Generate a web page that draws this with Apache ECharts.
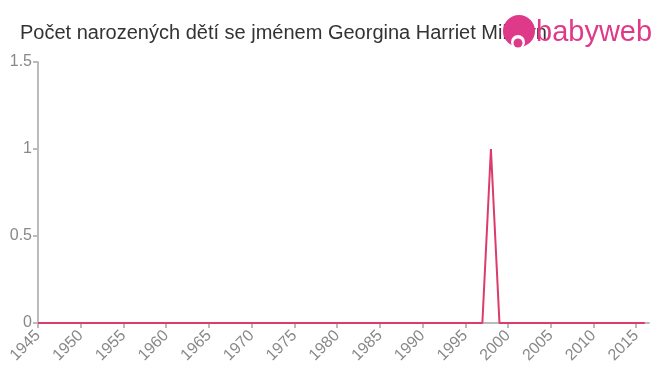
<!DOCTYPE html>
<html><head><meta charset="utf-8">
<script src="https://cdn.jsdelivr.net/npm/echarts@6/dist/echarts.min.js"></script>
<style>html,body{margin:0;padding:0;background:#fff}#c{width:660px;height:375px}</style>
</head><body><div id="c"></div>
<script>
const years = [];
for (let y = 1945; y <= 2016; y++) years.push(y);
const peakYears = [1998];
const peakValues = [1];
const counts = years.map(y => { const i = peakYears.indexOf(y); return i >= 0 ? peakValues[i] : 0; });
const yTicks = [0, 0.5, 1, 1.5];
const title = 'Počet narozených dětí se jménem Georgina Harriet Milburn';

const chart = echarts.init(document.getElementById('c'));
chart.setOption({
  animation: false,
  textStyle: { fontFamily: 'Liberation Sans, Arial, sans-serif' },
  title: { text: title, left: 15, top: 18, textStyle: { fontSize: 20, fontWeight: 'normal', color: '#333' } },
  grid: { left: 38, right: 11, top: 62, bottom: 52 },
  xAxis: {
    type: 'value', min: 1945, max: 2016.5, interval: 5,
    axisLine: { lineStyle: { color: '#bbb', width: 2 } },
    axisTick: { lineStyle: { color: '#bbb', width: 2 }, length: 5 },
    axisLabel: { rotate: 45, color: '#888', fontSize: 16, showMaxLabel: false, margin: 10, formatter: v => String(v) },
    splitLine: { show: false }
  },
  yAxis: {
    type: 'value', min: 0, max: 1.5, interval: 0.5,
    axisLine: { show: true, lineStyle: { color: '#bbb', width: 2 } },
    axisTick: { show: true, lineStyle: { color: '#bbb', width: 2 }, length: 5 },
    axisLabel: { color: '#888', fontSize: 16, margin: 6, formatter: v => String(v) },
    splitLine: { show: false }
  },
  series: [{
    type: 'line', data: years.map((y, i) => [y, counts[i]]),
    showSymbol: false, lineStyle: { color: '#dc3c6c', width: 2 }, itemStyle: { color: '#dc3c6c' }
  }],
  graphic: [
    { type: 'circle', shape: { cx: 519, cy: 31, r: 16 }, style: { fill: '#df3a89' }, z: 100 },
    { type: 'circle', shape: { cx: 518, cy: 42, r: 7 }, style: { fill: '#fff' }, z: 101 },
    { type: 'circle', shape: { cx: 518, cy: 43, r: 4.5 }, style: { fill: '#df3a89' }, z: 102 },
    { type: 'text', x: 536, y: 18, style: { text: 'babyweb', fill: '#df3a89', font: '29px Liberation Sans, Arial, sans-serif' }, z: 100 }
  ]
});
</script></body></html>
